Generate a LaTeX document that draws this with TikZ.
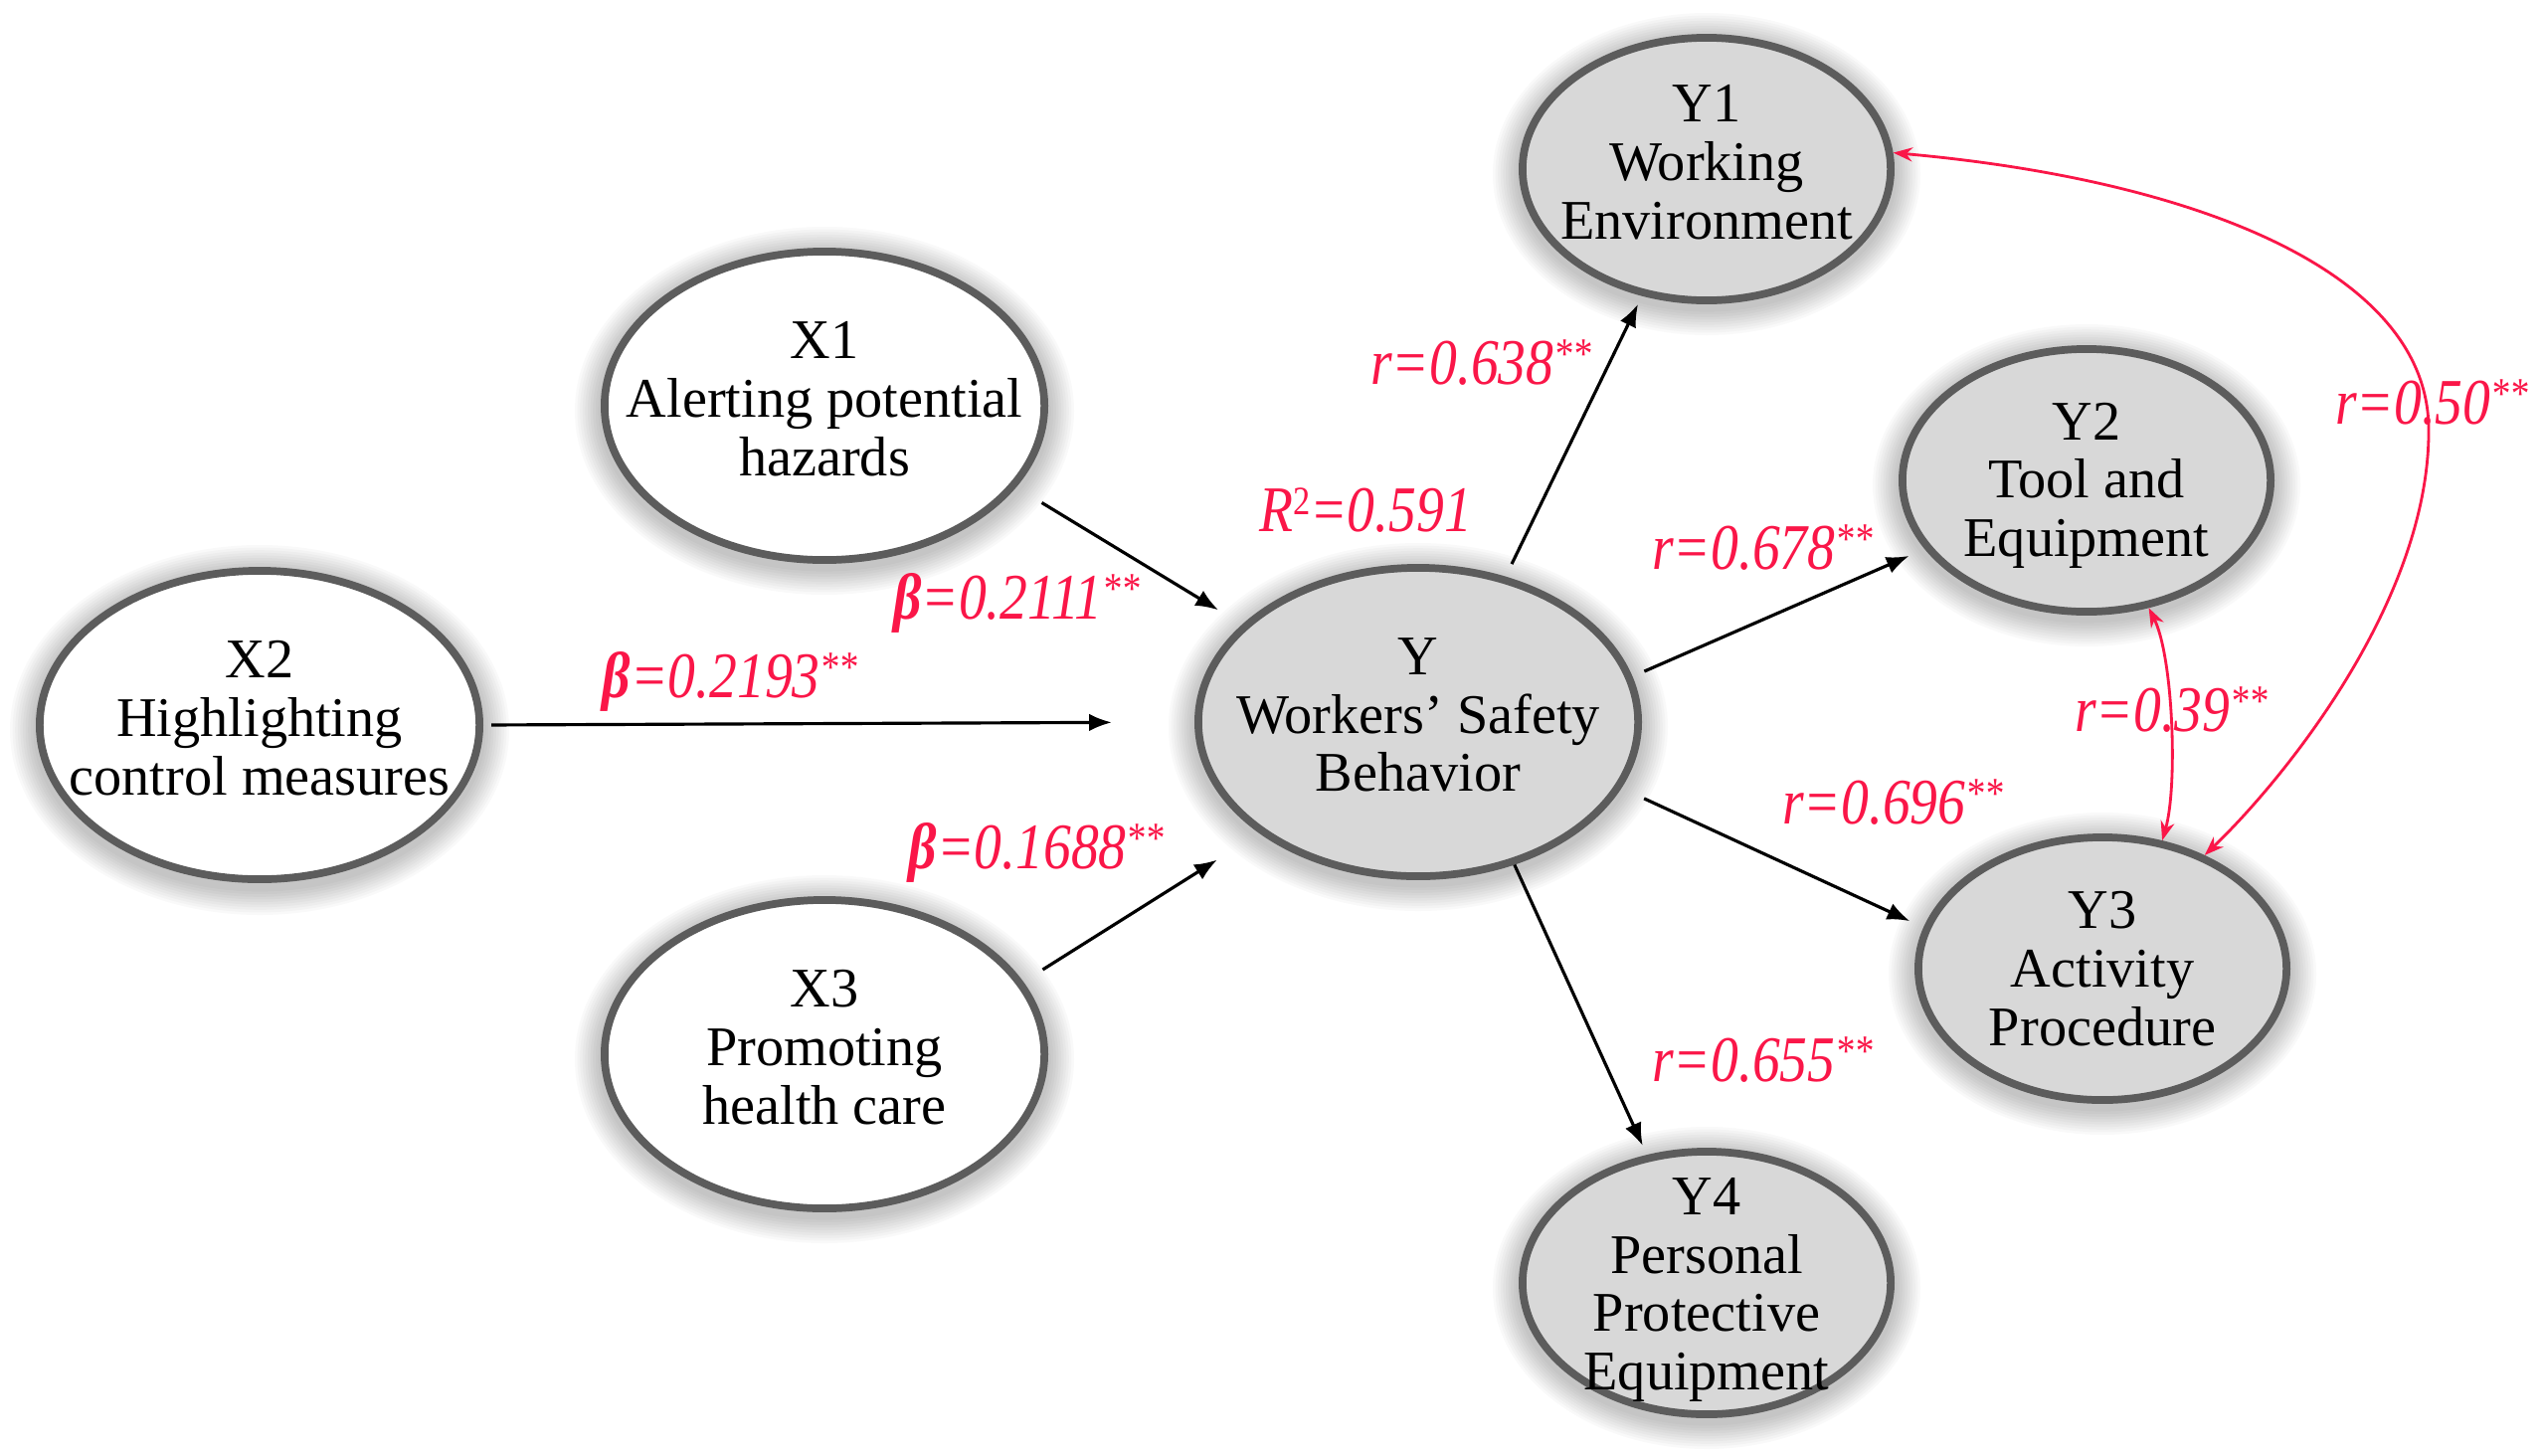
\documentclass[tikz,border=0pt]{standalone}
\usepackage{fontspec}
\setmainfont{Liberation Serif}
\newfontfamily\labfont[FakeStretch=0.85]{Liberation Serif}
\usetikzlibrary{shapes.geometric,arrows.meta}
\definecolor{labred}{RGB}{250,22,72}
\definecolor{rimgray}{RGB}{92,92,92}
\definecolor{latfill}{RGB}{216,216,216}
\newcommand{\stars}{\raisebox{4.5pt}{\fontsize{12.5}{12.5}\selectfont **}}
\newcommand{\softshadow}[4]{%
  \foreach \i in {1,...,10}{\fill[black,opacity=0.024] (#1,#2+5) ellipse [x radius=#3+\i*2.6, y radius=#4+\i*2.6];}}
\begin{document}
\begin{tikzpicture}[x=0.01cm,y=-0.01cm,
  bigell/.style={ellipse, draw=rimgray, line width=2.2pt, minimum width=4.42cm, minimum height=3.10cm, inner sep=0pt},
  smallell/.style={ellipse, draw=rimgray, line width=2.2pt, minimum width=3.70cm, minimum height=2.64cm, inner sep=0pt, fill=latfill},
  nodetext/.style={align=center, font=\fontsize{16}{16.7}\selectfont, inner sep=0pt},
  coef/.style={text=labred, font=\labfont\itshape\fontsize{18.6}{18.6}\selectfont, inner sep=0pt, text height=13pt, text depth=3pt},
  arr/.style={-{Latex[length=6.5pt,width=5pt]}, line width=0.9pt, black},
  corr/.style={{Stealth[length=5.5pt,width=4pt]}-{Stealth[length=5.5pt,width=4pt]}, line width=0.8pt, labred}
]
\fill[white] (0,0) rectangle (2558,1463);
\useasboundingbox (0,0) rectangle (2558,1463);

% shadows
\softshadow{829}{408}{225}{159}
\softshadow{261}{729}{225}{160}
\softshadow{829}{1060}{225}{159}
\softshadow{1426}{726}{225}{159}
\softshadow{1716}{170}{189}{136}
\softshadow{2098}{483}{189}{136}
\softshadow{2114}{974}{189}{136}
\softshadow{1716}{1290}{189}{136}

% nodes
\node[bigell, fill=white] (x1) at (829,408) {};
\node[nodetext] (x1t) at ([yshift=2pt]x1) {X1\\Alerting potential\\hazards};
\node[bigell, fill=white] (x2) at (261,729) {};
\node[nodetext] (x2t) at ([yshift=2pt]x2) {X2\\Highlighting\\control measures};
\node[bigell, fill=white] (x3) at (829,1060) {};
\node[nodetext] (x3t) at ([yshift=2pt]x3) {X3\\Promoting\\health care};
\node[bigell, fill=latfill] (y) at (1426,726) {};
\node[nodetext] (yt) at ([yshift=2pt]y) {Y\\Workers’ Safety\\Behavior};
\node[smallell] (y1) at (1716,170) {};
\node[nodetext] (y1t) at ([yshift=2pt]y1) {Y1\\Working\\Environment};
\node[smallell] (y2) at (2098,483) {};
\node[nodetext] (y2t) at ([yshift=-1.5pt]y2) {Y2\\Tool and\\Equipment};
\node[smallell] (y3) at (2114,974) {};
\node[nodetext] (y3t) at (y3) {Y3\\Activity\\Procedure};
\node[smallell] (y4) at (1716,1290) {};
\node[nodetext] (y4t) at ([yshift=-2pt]y4) {Y4\\Personal\\Protective\\Equipment};

% paths
\draw[arr, shorten <=0.3cm, shorten >=0.28cm] (x1.-23) -- (y.151);
\draw[arr, shorten <=0.08cm, shorten >=0.83cm] (x2.east) -- (y.west);
\draw[arr, shorten <=0.23cm, shorten >=0.5cm] (x3.20) -- (y.-145);
\draw[arr, shorten <=0.14cm, shorten >=0.09cm] (y.59) -- (y1.243);
\draw[arr, shorten <=0.13cm, shorten >=0.17cm] (y.12) -- (y2.203);
\draw[arr, shorten <=0.25cm, shorten >=0.15cm] (y.-18) -- (y3.167);
\draw[arr, shorten >=0.1cm] (y.-56) -- (y4.115);

\coordinate (bend) at (2442,430);
\draw[corr] (y2.-64) .. controls (2185,660) and (2190,790) .. (y3.65);
\draw[corr] (y1.5) .. controls (2200,180) and (2440,270) .. (bend) .. controls (2444,600) and (2300,780) .. (y3.48);

% coefficients
\node[coef] (c1) at (1489,369) {r=0.638\stars};
\node[coef] (c2) at (1373,517) {R\raisebox{5pt}{\fontsize{11.5}{11.5}\selectfont\upshape 2}=0.591};
\node[coef] (c3) at (1772,555) {r=0.678\stars};
\node[coef] (c4) at (1903,811) {r=0.696\stars};
\node[coef] (c5) at (1772,1070) {r=0.655\stars};
\node[coef] (c6) at (2445,409) {r=0.50\stars};
\node[coef] (c7) at (2183,718) {r=0.39\stars};
\node[coef] (b1) at (1022,605) {{\bfseries β}=0.2111\stars};
\node[coef] (b2) at (734,684) {{\bfseries β}=0.2193\stars};
\node[coef] (b3) at (1042,856) {{\bfseries β}=0.1688\stars};
\end{tikzpicture}
\end{document}
